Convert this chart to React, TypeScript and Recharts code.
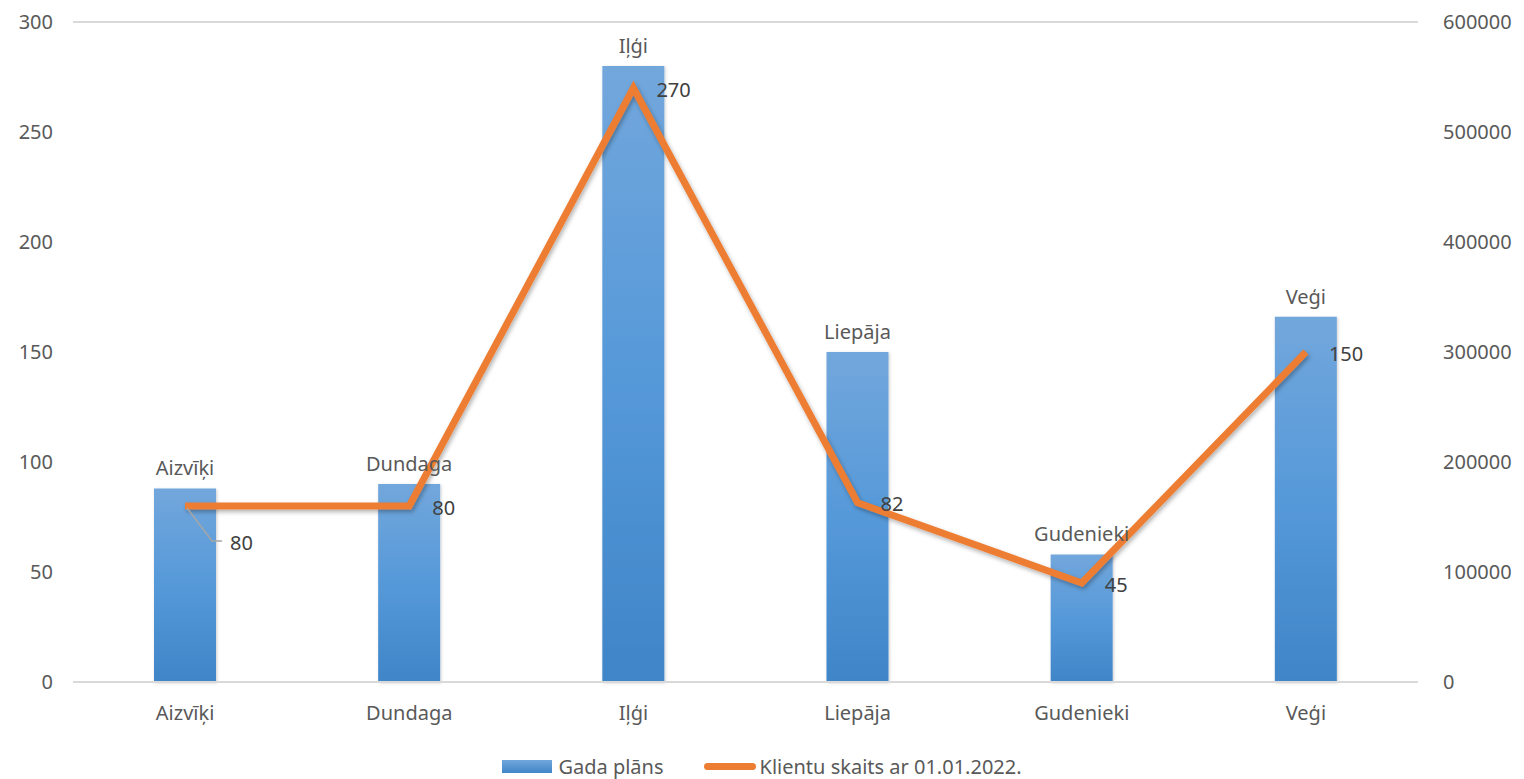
import React from 'react';
import { ComposedChart, Bar, Line, XAxis, YAxis, CartesianGrid, LabelList } from 'recharts';

const categories = ['Aizvīķi', 'Dundaga', 'Iļģi', 'Liepāja', 'Gudenieki', 'Veģi'];
const gadaPlans = [88, 90, 280, 150, 58, 166];
const klientuSkaits = [160000, 160000, 540000, 163000, 90000, 300000];
const lineLabels = ['80', '80', '270', '82', '45', '150'];
const leftTicks = [0, 50, 100, 150, 200, 250, 300];
const rightTicks = [0, 100000, 200000, 300000, 400000, 500000, 600000];

const data = categories.map((name, i) => ({
  name,
  plans: gadaPlans[i],
  klienti: klientuSkaits[i],
  label: lineLabels[i],
}));

const FONT = '"Noto Sans", sans-serif';
const AXIS_GRAY = '#595959';
const LABEL_GRAY = '#404040';
const ORANGE = '#ed7d31';

const XTick = (props: any) => {
  const { x, y, payload } = props;
  return (
    <text x={x} y={y + 28} textAnchor="middle" dominantBaseline="central" fill={AXIS_GRAY} fontSize={20} fontFamily={FONT}>
      {payload.value}
    </text>
  );
};

const LineLabel = (props: any) => {
  const { x, y, index } = props;
  const txt = lineLabels[index];
  // first point has its label pulled down with a leader line
  if (index === 0) {
    return (
      <g>
        <polyline points={`${x + 2},${y + 2} ${x + 27},${y + 35} ${x + 37},${y + 35}`} fill="none" stroke="#a6a6a6" strokeWidth={1.5} />
        <text x={x + 45} y={y + 36} dominantBaseline="central" fill={LABEL_GRAY} fontSize={20} fontFamily={FONT}>{txt}</text>
      </g>
    );
  }
  return (
    <text x={x + 23} y={y + 1} dominantBaseline="central" fill={LABEL_GRAY} fontSize={20} fontFamily={FONT}>{txt}</text>
  );
};

export default function App() {
  return (
    <div style={{ position: 'absolute', left: 0, top: 0, width: 1524, height: 779, background: '#fff' }}>
      <ComposedChart width={1524} height={779} data={data} margin={{ top: 22, right: 0, left: 0, bottom: 0 }}>
        <defs>
          <linearGradient id="barGrad" x1="0" y1="0" x2="0" y2="1">
            <stop offset="0%" stopColor="#72a7dc" />
            <stop offset="50%" stopColor="#5699d9" />
            <stop offset="100%" stopColor="#3f85c8" />
          </linearGradient>
          <filter id="lineShadow" x="-10%" y="-10%" width="120%" height="130%">
            <feDropShadow dx="1.5" dy="2.5" stdDeviation="2" floodColor="#000" floodOpacity="0.3" />
          </filter>
          <filter id="barShadow" x="-20%" y="-10%" width="140%" height="120%">
            <feDropShadow dx="1" dy="1" stdDeviation="1.5" floodColor="#000" floodOpacity="0.2" />
          </filter>
        </defs>
        <CartesianGrid vertical={false} stroke="#d9d9d9" strokeWidth={2} />
        <XAxis
          dataKey="name"
          height={97}
          tickLine={false}
          tickSize={0}
          tick={<XTick />}
          axisLine={{ stroke: '#d9d9d9', strokeWidth: 2 }}
        />
        <YAxis
          yAxisId="left"
          width={73}
          domain={[0, 300]}
          ticks={leftTicks}
          axisLine={false}
          tickLine={false}
          tickSize={0}
          tickMargin={20}
          tick={{ fill: AXIS_GRAY, fontSize: 20, fontFamily: FONT }}
        />
        <YAxis
          yAxisId="right"
          orientation="right"
          width={106}
          domain={[0, 600000]}
          ticks={rightTicks}
          axisLine={false}
          tickLine={false}
          tickSize={0}
          tickMargin={25}
          tick={{ fill: AXIS_GRAY, fontSize: 20, fontFamily: FONT }}
        />
        <Bar yAxisId="left" dataKey="plans" barSize={62} fill="url(#barGrad)" filter="url(#barShadow)" isAnimationActive={false}>
          <LabelList dataKey="name" position="top" offset={13} fill={AXIS_GRAY} fontSize={20} fontFamily={FONT} />
        </Bar>
        <Line
          yAxisId="right"
          dataKey="klienti"
          stroke={ORANGE}
          strokeWidth={7}
          dot={false}
          activeDot={false}
          filter="url(#lineShadow)"
          isAnimationActive={false}
          label={<LineLabel />}
        />
      </ComposedChart>
      {/* legend */}
      <div style={{ position: 'absolute', left: 0, top: 753, width: 1524, display: 'flex', justifyContent: 'center', alignItems: 'center', fontFamily: FONT, fontSize: 20, color: AXIS_GRAY }}>
        <div style={{ display: 'flex', alignItems: 'center', marginRight: 40 }}>
          <span style={{ width: 50, height: 13, marginRight: 6, background: 'linear-gradient(#72a7dc, #3f85c8)' }} />
          <span>Gada plāns</span>
        </div>
        <div style={{ display: 'flex', alignItems: 'center' }}>
          <span style={{ width: 52, height: 7, borderRadius: 3.5, marginRight: 4, background: ORANGE }} />
          <span>Klientu skaits ar 01.01.2022.</span>
        </div>
      </div>
    </div>
  );
}
